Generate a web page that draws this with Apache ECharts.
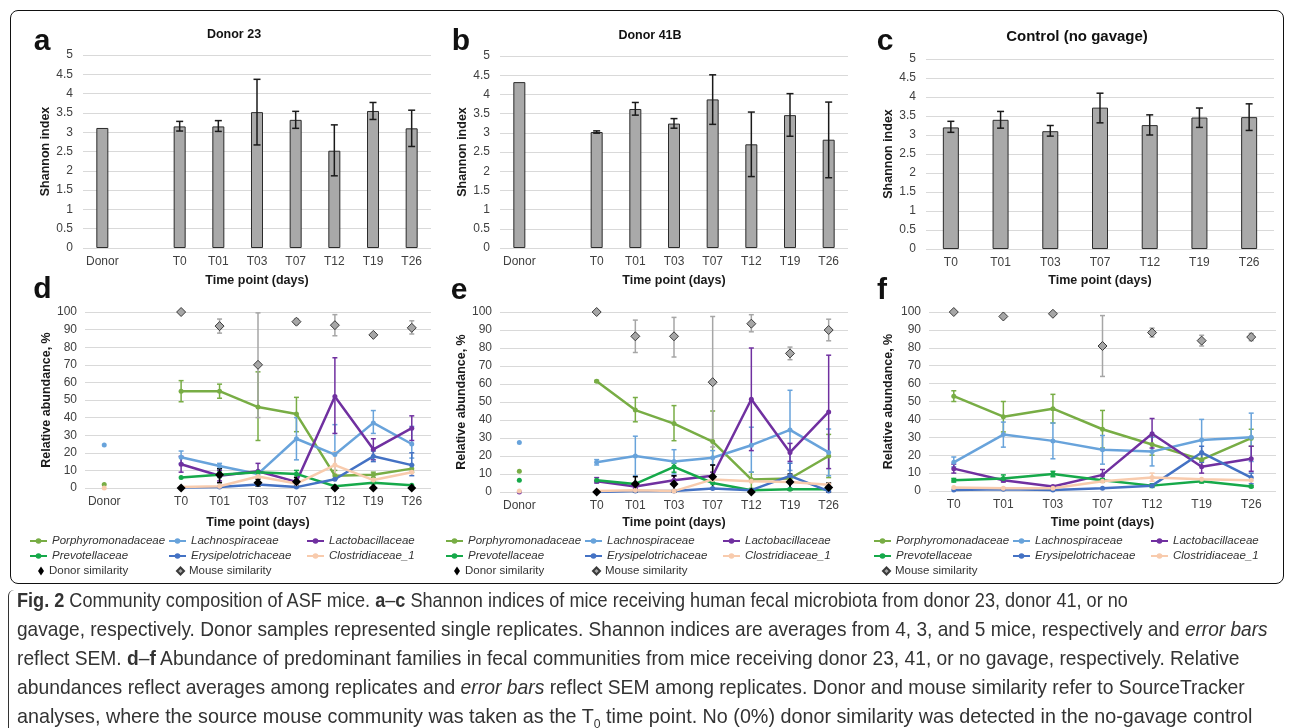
<!DOCTYPE html>
<html>
<head>
<meta charset="utf-8">
<script src="https://cdn.jsdelivr.net/npm/echarts@6/dist/echarts.min.js"></script>
<style>
html, body { margin: 0; padding: 0; background: #fff; overflow: hidden; }
#chart { position: absolute; left: 0; top: 0; width: 1290px; height: 728px; }
#frame { position: absolute; left: 10px; top: 10px; width: 1272px; height: 572px; border: 1.5px solid #111; border-radius: 8px; pointer-events: none; }
#capline { position: absolute; left: 8px; top: 590px; width: 20px; height: 160px; border-left: 1.5px solid #333; border-top-left-radius: 6px; }
#caption { position: absolute; left: 17px; top: 585px; font-family: "Liberation Sans", sans-serif; font-size: 21px; line-height: 29px; color: #333; white-space: nowrap; }
#caption span { display: block; transform-origin: 0 0; }
#caption b { font-weight: bold; }
</style>
</head>
<body>
<div id="chart"></div>
<div id="frame"></div>
<div id="capline"></div>
<div id="caption">
<span style="transform:scaleX(0.862)"><b>Fig. 2</b> Community composition of ASF mice. <b>a</b>–<b>c</b> Shannon indices of mice receiving human fecal microbiota from donor 23, donor 41, or no</span>
<span style="transform:scaleX(0.909)">gavage, respectively. Donor samples represented single replicates. Shannon indices are averages from 4, 3, and 5 mice, respectively and <i>error bars</i></span>
<span style="transform:scaleX(0.915)">reflect SEM. <b>d</b>–<b>f</b> Abundance of predominant families in fecal communities from mice receiving donor 23, 41, or no gavage, respectively. Relative</span>
<span style="transform:scaleX(0.92)">abundances reflect averages among replicates and <i>error bars</i> reflect SEM among replicates. Donor and mouse similarity refer to SourceTracker</span>
<span style="transform:scaleX(0.94)">analyses, where the source mouse community was taken as the T<sub style="font-size:13px">0</sub> time point. No (0%) donor similarity was detected in the no-gavage control</span>
</div>
<script>
// categories
const timePoints = ['T0', 'T01', 'T03', 'T07', 'T12', 'T19', 'T26'];
const donorCats = ['Donor', '', 'T0', 'T01', 'T03', 'T07', 'T12', 'T19', 'T26'];
const families = ['Porphyromonadaceae', 'Lachnospiraceae', 'Lactobacillaceae', 'Prevotellaceae', 'Erysipelotrichaceae', 'Clostridiaceae_1'];

// a-c: Shannon index (mean, [lo, hi] of SEM bar)
const shannonA = [3.11, null, 3.15, 3.15, 3.52, 3.32, 2.52, 3.55, 3.10];
const shannonAErr = [null, null, [3.03, 3.28], [3.02, 3.30], [2.67, 4.37], [3.10, 3.54], [1.87, 3.19], [3.33, 3.77], [2.63, 3.57]];
const shannonB = [4.32, null, 3.02, 3.62, 3.24, 3.87, 2.70, 3.46, 2.82];
const shannonBErr = [null, null, [2.99, 3.05], [3.46, 3.79], [3.12, 3.37], [3.22, 4.51], [1.86, 3.54], [2.91, 4.02], [1.83, 3.80]];
const shannonC = [3.20, 3.40, 3.10, 3.72, 3.26, 3.46, 3.47];
const shannonCErr = [[3.07, 3.36], [3.18, 3.62], [2.97, 3.25], [3.32, 4.10], [3.00, 3.53], [3.20, 3.71], [3.12, 3.82]];

// d: donor 23, relative abundance %
const porphD = [2, null, 55, 55, 46, 42, 7, 7.5, 11];
const porphDErr = [null, null, [49, 61], [51, 59], [27, 66], [32, 51.5], [5, 10], [6, 9], [9, 13]];
const lachD = [24.5, null, 17.5, 12.5, 8, 28, 19, 37, 25];
const lachDErr = [null, null, [14, 21], [11, 14], null, [16, 40], [5, 36], [31, 44], [17, 35]];
const lactD = [null, null, 13.5, 7, 9.5, 3.5, 52, 22, 34];
const lactDErr = [null, null, [9, 18], [4, 10], [6, 14], [2, 5], [31, 74], [16, 28], [27, 41]];
const prevD = [null, null, 6, 7.5, 9, 8, 1, 3, 1.5];
const prevDErr = [null, null, null, [6, 9], null, [6, 10], null, null, null];
const erysD = [null, null, 0.3, 0.5, 2, 0.5, 5, 18, 13];
const erysDErr = [null, null, null, null, null, null, null, [15, 21], [7, 20]];
const closD = [0, null, 0.5, 1, 6.5, 2.5, 13, 4.5, 9];
const closDErr = [null, null, null, null, null, null, [8, 20.5], null, null];
const donorSimD = [null, null, 0, 7.5, 3, 3.5, 0, 0, 0];
const donorSimDErr = [null, null, null, [3, 11], [1, 5], [1.5, 6], null, null, null];
const mouseSimD = [null, null, 100, 92, 70, 94.5, 92.5, 87, 91];
const mouseSimDErr = [null, null, null, [88, 96], [40, 99.5], [93, 96], [86.5, 98.5], null, [87.5, 95]];

// e: donor 41B
const porphE = [11.5, null, 61.5, 45.5, 38, 28, 7, 7.5, 20];
const porphEErr = [null, null, [61, 62], [39, 52.5], [28.5, 48], [11, 45], [2, 11], [6, 9], [8, 32]];
const lachE = [27.5, null, 16.5, 20, 17, 19, 26, 34.5, 22];
const lachEErr = [null, null, [15, 18], [9, 31], [10, 23.5], [15, 23], [11, 36], [12, 56.5], [9, 35]];
const lactE = [0, null, 6, 3, 6.5, 9, 51.5, 22, 44.5];
const lactEErr = [null, null, [5, 8], [2, 4], [4, 9], [7, 11], [23, 80], [17, 27], [13, 76]];
const prevE = [6.5, null, 6.5, 4.5, 14, 5, 1, 1.5, 1.5];
const prevEErr = [null, null, null, null, [11, 16], null, null, null, null];
const erysE = [null, null, 0, 0.5, 0.5, 2, 1, 9, 0.5];
const erysEErr = [null, null, null, null, null, null, null, [2, 16], null];
const closE = [0.5, null, 0.5, 1, 0.5, 7, 6, 5.5, 4];
const closEErr = [null, null, null, null, null, null, null, null, null];
const donorSimE = [null, null, 0, 4.5, 4.5, 8.5, 0, 5.5, 2.5];
const donorSimEErr = [null, null, null, [0, 8.5], [0, 9], [2, 15], null, [1, 10], [0, 5]];
const mouseSimE = [null, null, 100, 86.5, 86.5, 61, 93.5, 77, 90];
const mouseSimEErr = [null, null, null, [77.5, 95.5], [75, 97], [25, 97.5], [89, 98.5], [73.5, 80.5], [84, 96]];

// f: control (no gavage)
const porphF = [53, 41.5, 46, 34.5, 26, 17.5, 29.5];
const porphFErr = [[50, 56], [33, 50], [38, 54], [24, 45], [20, 31], [14, 21], [25, 34.5]];
const lachF = [16, 31.5, 28, 23, 22, 28.5, 30];
const lachFErr = [[13.5, 19], [24.5, 38.5], [18, 38], [15, 31], [14, 30], [17, 40], [16.5, 43.5]];
const lactF = [12.5, 6, 2.5, 9, 32, 13.5, 18];
const lactFErr = [[10, 15], [5, 7], [2, 3], [6, 12], [24, 40.5], [10, 17], [11, 25]];
const prevF = [6, 7, 9.5, 6, 3, 5.5, 2.5];
const prevFErr = [[5, 7], [5.5, 9], [8, 11], [5, 7], [2, 4], [4.5, 6.5], [2, 3]];
const erysF = [0.5, 1, 0.5, 1.5, 3, 21.5, 7.5];
const erysFErr = [null, null, null, null, null, [16, 25], [4, 10]];
const closF = [2, 1.5, 1.5, 5.5, 7.5, 6.5, 6];
const closFErr = [null, null, null, null, [5.5, 10], null, null];
const mouseSimF = [100, 97.5, 99, 81, 88.5, 84, 86];
const mouseSimFErr = [null, null, null, [64, 98], [86, 91], [81, 87], [84, 88]];

const famColors = ['#78ad45', '#68a3db', '#7030a0', '#16a94a', '#4472c4', '#f8cbad'];
const FONT = 'Liberation Sans';

function errorBars(axis, err, color, capHalf, width) {
    let data = [];
    err.forEach((e, i) => {
        if (e) data.push([i, e[0], e[1]]);
    });
    return {
        type: 'custom',
        name: 'err',
        xAxisIndex: axis,
        yAxisIndex: axis,
        silent: true,
        z: 3,
        encode: { x: 0, y: [1, 2] },
        data: data,
        renderItem: (params, api) => {
            let top = api.coord([api.value(0), api.value(2)]);
            let bot = api.coord([api.value(0), api.value(1)]);
            let x = top[0];
            let st = { stroke: color, lineWidth: width };
            return {
                type: 'group',
                children: [
                    { type: 'line', shape: { x1: x, y1: top[1], x2: x, y2: bot[1] }, style: st },
                    { type: 'line', shape: { x1: x - capHalf, y1: top[1], x2: x + capHalf, y2: top[1] }, style: st },
                    { type: 'line', shape: { x1: x - capHalf, y1: bot[1], x2: x + capHalf, y2: bot[1] }, style: st }
                ]
            };
        }
    };
}

const grids = [
    { left: 83, top: 55, width: 348, height: 193 },
    { left: 500, top: 56, width: 348, height: 192 },
    { left: 926, top: 59, width: 348, height: 190 },
    { left: 85, top: 312, width: 346, height: 176 },
    { left: 500, top: 312, width: 348, height: 180 },
    { left: 929, top: 312, width: 347, height: 179 }
];
const xCats = [donorCats, donorCats, timePoints, donorCats, donorCats, timePoints];
const xNameGap = [26, 26, 25, 28, 24, 25];
const yNameGap = [30, 31, 31, 32, 31, 34];

let xAxis = grids.map((g, i) => ({
    type: 'category',
    gridIndex: i,
    data: xCats[i],
    axisLine: { show: false },
    axisTick: { show: false },
    axisLabel: { fontSize: 12, color: '#404040', margin: 8, fontFamily: FONT, interval: 0 },
    name: 'Time point (days)',
    nameLocation: 'middle',
    nameGap: xNameGap[i],
    nameTextStyle: { fontSize: 12.5, fontWeight: 'bold', color: '#1a1a1a', fontFamily: FONT }
}));

let yAxis = grids.map((g, i) => {
    let shannon = i < 3;
    return {
        type: 'value',
        gridIndex: i,
        min: 0,
        max: shannon ? 5 : 100,
        interval: shannon ? 0.5 : 10,
        axisLine: { show: false },
        axisTick: { show: false },
        splitLine: { lineStyle: { color: '#d9d9d9', width: 1 } },
        axisLabel: { fontSize: 12, color: '#404040', margin: shannon ? 10 : 8, fontFamily: FONT },
        name: shannon ? 'Shannon index' : 'Relative abundance, %',
        nameLocation: 'middle',
        nameRotate: 90,
        nameGap: yNameGap[i],
        nameTextStyle: { fontSize: 12.5, fontWeight: 'bold', color: '#1a1a1a', fontFamily: FONT }
    };
});

let series = [];

// Shannon bars
[[shannonA, shannonAErr, 12], [shannonB, shannonBErr, 12], [shannonC, shannonCErr, 16]].forEach((p, i) => {
    series.push({
        type: 'bar',
        name: 'Shannon',
        xAxisIndex: i,
        yAxisIndex: i,
        barWidth: p[2],
        data: p[0],
        itemStyle: { color: '#a9a9a9', borderColor: '#2b2b2b', borderWidth: 1 },
        z: 2
    });
    series.push(errorBars(i, p[1], '#1a1a1a', 3.5, 1.5));
});

// Abundance panels
const abundance = [
    { axis: 3, fam: [porphD, lachD, lactD, prevD, erysD, closD], err: [porphDErr, lachDErr, lactDErr, prevDErr, erysDErr, closDErr], donor: donorSimD, donorErr: donorSimDErr, mouse: mouseSimD, mouseErr: mouseSimDErr },
    { axis: 4, fam: [porphE, lachE, lactE, prevE, erysE, closE], err: [porphEErr, lachEErr, lactEErr, prevEErr, erysEErr, closEErr], donor: donorSimE, donorErr: donorSimEErr, mouse: mouseSimE, mouseErr: mouseSimEErr },
    { axis: 5, fam: [porphF, lachF, lactF, prevF, erysF, closF], err: [porphFErr, lachFErr, lactFErr, prevFErr, erysFErr, closFErr], donor: null, mouse: mouseSimF, mouseErr: mouseSimFErr }
];

abundance.forEach(p => {
    families.forEach((name, k) => {
        series.push(errorBars(p.axis, p.err[k], famColors[k], 2.5, 1.5));
        series.push({
            type: 'line',
            name: name,
            xAxisIndex: p.axis,
            yAxisIndex: p.axis,
            data: p.fam[k],
            symbol: 'circle',
            symbolSize: 5,
            showAllSymbol: true,
            connectNulls: false,
            lineStyle: { color: famColors[k], width: 2.5 },
            itemStyle: { color: famColors[k] },
            z: 4
        });
    });
    if (p.donor) {
        series.push(errorBars(p.axis, p.donorErr, '#000', 2.5, 1.5));
        series.push({
            type: 'scatter',
            name: 'Donor similarity',
            xAxisIndex: p.axis,
            yAxisIndex: p.axis,
            data: p.donor,
            symbol: 'diamond',
            symbolSize: 9,
            symbolKeepAspect: true,
            itemStyle: { color: '#000', opacity: 1 },
            z: 6
        });
    }
    series.push(errorBars(p.axis, p.mouseErr, '#a6a6a6', 2.5, 1.5));
    series.push({
        type: 'scatter',
        name: 'Mouse similarity',
        xAxisIndex: p.axis,
        yAxisIndex: p.axis,
        data: p.mouse,
        symbol: 'diamond',
        symbolSize: 9,
        symbolKeepAspect: true,
        itemStyle: { color: '#a6a6a6', borderColor: '#3a3a3a', borderWidth: 1, opacity: 1 },
        z: 6
    });
});

// legends: three columns per panel plus the similarity row
function legendCol(left, top, names, w, h, italic) {
    return {
        orient: 'vertical',
        left: left,
        top: top,
        padding: 0,
        itemGap: 1,
        itemWidth: w,
        itemHeight: h,
        selectedMode: false,
        textStyle: { fontSize: 11.5, color: '#333', fontStyle: italic ? 'italic' : 'normal', lineHeight: 14, fontFamily: FONT },
        data: names
    };
}
let legend = [];
[29, 445, 873].forEach((lx, i) => {
    legend.push(legendCol(lx, 534, ['Porphyromonadaceae', 'Prevotellaceae'], 17, 7, true));
    legend.push(legendCol(lx + 139, 534, ['Lachnospiraceae', 'Erysipelotrichaceae'], 17, 7, true));
    legend.push(legendCol(lx + 277, 534, ['Lactobacillaceae', 'Clostridiaceae_1'], 17, 7, true));
    if (i < 2) {
        legend.push(legendCol(lx + 9, 564, ['Donor similarity'], 6, 9, false));
        legend.push(legendCol(lx + 147, 564, ['Mouse similarity'], 7, 7, false));
    } else {
        legend.push(legendCol(lx + 9, 564, ['Mouse similarity'], 7, 7, false));
    }
});

function label(text, x, y, size, bold) {
    return {
        type: 'text',
        x: x,
        y: y,
        silent: true,
        style: {
            text: text,
            font: (bold ? 'bold ' : '') + size + 'px "' + FONT + '"',
            fill: '#111',
            align: 'center',
            verticalAlign: 'middle',
            textAlign: 'center',
            textVerticalAlign: 'middle'
        }
    };
}
let graphic = [
    label('Donor 23', 234, 35, 12.5, true),
    label('Donor 41B', 650, 36, 12.5, true),
    label('Control (no gavage)', 1077, 37, 15, true),
    label('a', 42, 41.5, 30, true),
    label('b', 461, 41.5, 30, true),
    label('c', 885, 41.5, 30, true),
    label('d', 42.5, 290, 30, true),
    label('e', 459, 291, 30, true),
    label('f', 882, 291, 30, true)
];

let myChart = echarts.init(document.getElementById('chart'), null, { renderer: 'canvas' });
myChart.setOption({
    animation: false,
    textStyle: { fontFamily: FONT },
    grid: grids,
    xAxis: xAxis,
    yAxis: yAxis,
    legend: legend,
    graphic: graphic,
    series: series
});
</script>
</body>
</html>
